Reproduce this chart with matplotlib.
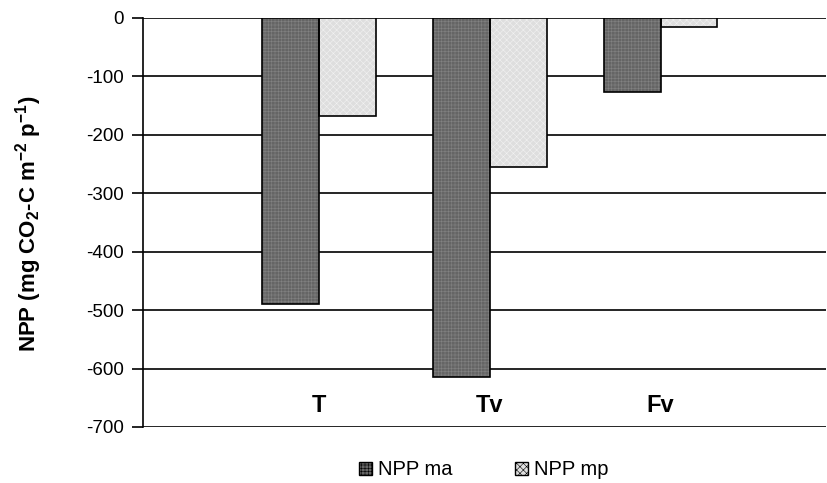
import matplotlib
matplotlib.use('Agg')
import matplotlib.pyplot as plt
import numpy as np
from matplotlib.patches import Patch

plt.rcParams['font.family'] = ['Liberation Sans', 'DejaVu Sans']
plt.rcParams['mathtext.fontset'] = 'custom'
plt.rcParams['mathtext.rm'] = 'Liberation Sans'
plt.rcParams['mathtext.bf'] = 'Liberation Sans:bold'
plt.rcParams['axes.unicode_minus'] = False
plt.rcParams['hatch.linewidth'] = 0.4

# Data
categories = ['T', 'Tv', 'Fv']
npp_ma = [-490, -615, -127]
npp_mp = [-168, -255, -15]
series_names = ['NPP ma', 'NPP mp']

fig = plt.figure(figsize=(8.27, 4.83), dpi=100)
ax = fig.add_axes([0.173, 0.116, 0.826, 0.847])

x = np.arange(1, len(categories) + 1)
w = 0.333

# grid lines behind bars
for yv in range(0, -701, -100):
    ax.axhline(yv, color='black', linewidth=1.2, zorder=0)

# dark bars: fill + pattern + outline
ax.bar(x - w / 2, npp_ma, w, color='#656565', edgecolor='#828282', hatch='+++++', linewidth=0, zorder=2)
ax.bar(x - w / 2, npp_ma, w, fill=False, edgecolor='black', linewidth=1.2, zorder=3)
# light bars
ax.bar(x + w / 2, npp_mp, w, color='#dedede', edgecolor='#f2f2f2', hatch='xxxxx', linewidth=0, zorder=2)
ax.bar(x + w / 2, npp_mp, w, fill=False, edgecolor='black', linewidth=1.2, zorder=3)

# category labels inside the plot
for xi, c in zip(x, categories):
    ax.text(xi, -663, c, ha='center', va='center', fontsize=17, fontweight='bold')

ax.set_xlim(-0.03, 3.97)
ax.set_ylim(-700, 0)
ax.set_yticks(range(-700, 1, 100))
ax.tick_params(axis='y', direction='out', length=8, width=1.2, labelsize=13.5, pad=6)
ax.set_xticks([])
for s in ['top', 'right', 'bottom']:
    ax.spines[s].set_visible(False)
ax.spines['left'].set_linewidth(1.2)

fig.text(0.034, 0.536, r'NPP (mg CO$_{\mathbf{2}}$-C m$^{\mathbf{-2}}$ p$^{\mathbf{-1}}$)',
         rotation=90, ha='center', va='center', fontsize=16, fontweight='bold')

handles = [Patch(facecolor='#656565', edgecolor='black', hatch='+++++'),
           Patch(facecolor='#dedede', edgecolor='black', hatch='xxxxx')]
fig.legend(handles, series_names, loc='center', bbox_to_anchor=(0.585, 0.027), ncol=2,
           frameon=False, fontsize=14.5, handlelength=0.65, handleheight=0.65,
           handletextpad=0.3, columnspacing=3.1)

fig.savefig('out.png', dpi=100)
